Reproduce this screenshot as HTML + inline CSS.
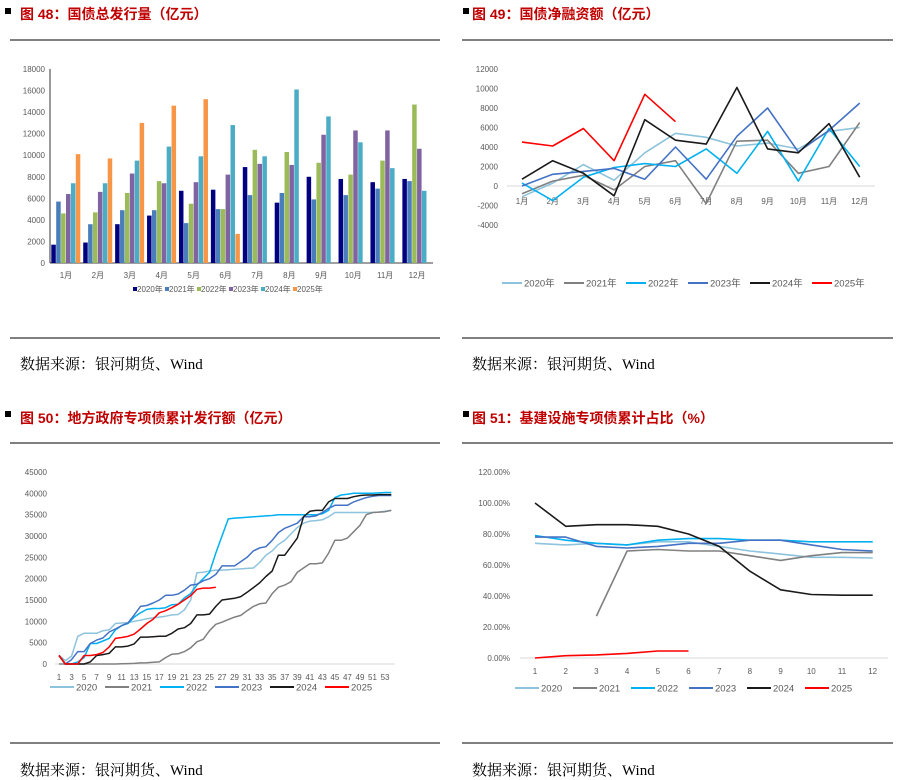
<!DOCTYPE html>
<html><head><meta charset="utf-8">
<style>
body{margin:0;background:#fff;width:897px;height:780px;overflow:hidden;font-family:"Liberation Sans","Noto Sans CJK SC",sans-serif}
svg{display:block}
.t{font-size:14px;font-weight:bold;fill:#c00000}
.src{font-family:"Liberation Serif","Noto Serif CJK SC",serif;font-size:15px;fill:#000}
.ax{font-size:8px;fill:#595959}
.ax9{font-size:9.5px;fill:#595959}
</style></head><body>
<svg id="s" width="897" height="780" xmlns="http://www.w3.org/2000/svg">
<g>
<rect x="5" y="8" width="6" height="6" fill="#000"/><text class="t" x="20" y="19">图 48：国债总发行量（亿元）</text>
<rect x="463" y="8" width="6" height="6" fill="#000"/><text class="t" x="472" y="19">图 49：国债净融资额（亿元）</text>
<rect x="5" y="411" width="6" height="6" fill="#000"/><text class="t" x="20" y="423">图 50：地方政府专项债累计发行额（亿元）</text>
<rect x="463" y="411" width="6" height="6" fill="#000"/><text class="t" x="472" y="423">图 51：基建设施专项债累计占比（%）</text>
<line x1="10" y1="40" x2="440" y2="40" stroke="#000"/><line x1="462" y1="40" x2="893" y2="40" stroke="#000"/>
<line x1="10" y1="338" x2="440" y2="338" stroke="#000"/><line x1="462" y1="338" x2="893" y2="338" stroke="#000"/>
<line x1="10" y1="443" x2="440" y2="443" stroke="#000"/><line x1="462" y1="443" x2="893" y2="443" stroke="#000"/>
<line x1="10" y1="743" x2="440" y2="743" stroke="#000"/><line x1="462" y1="743" x2="893" y2="743" stroke="#000"/>
<text class="src" x="20" y="369">数据来源：银河期货、Wind</text>
<text class="src" x="472" y="369">数据来源：银河期货、Wind</text>
<text class="src" x="20" y="775">数据来源：银河期货、Wind</text>
<text class="src" x="472" y="775">数据来源：银河期货、Wind</text>
</g>
</svg>
<script>
const months=["1月","2月","3月","4月","5月","6月","7月","8月","9月","10月","11月","12月"];
const years=["2020年","2021年","2022年","2023年","2024年","2025年"];
const yrs=["2020","2021","2022","2023","2024","2025"];
// chart 48
const b2020=[1700,1900,3600,4400,6700,6800,8900,5600,8000,7800,7500,7800];
const b2021=[5700,3600,4900,4900,3700,5000,6300,6500,5900,6300,6900,7600];
const b2022=[4600,4700,6500,7600,5500,5000,10500,10300,9300,8200,9500,14700];
const b2023=[6400,6600,8300,7400,7500,8200,9200,9100,11900,12300,12300,10600];
const b2024=[7400,7400,9500,10800,9900,12800,9900,16100,13600,11200,8800,6700];
const b2025=[10100,9700,13000,14600,15200,2700,null,null,null,null,null,null];
const ticks48=[0,2000,4000,6000,8000,10000,12000,14000,16000,18000];
// chart 49
const n2020=[-1100,300,2200,600,3400,5400,5000,4100,4400,3800,5600,6000];
const n2021=[-800,500,1100,-400,2000,2600,-1800,4600,4700,1300,2000,6500];
const n2022=[300,-1500,900,1900,2300,2000,3800,1300,5600,500,5900,2000];
const n2023=[0,1200,1500,1800,700,4000,700,5100,8000,3500,5700,8500];
const n2024=[700,2600,1300,-1000,6800,4700,4300,10100,3800,3400,6400,900];
const n2025=[4500,4100,5900,2600,9400,6600];
const ticks49=[-4000,-2000,0,2000,4000,6000,8000,10000,12000];
// chart 50
const c2020=[2000,800,1800,6500,7200,7200,7200,7800,8000,9500,9600,9700,10000,10300,10600,10800,11000,11200,11500,11600,12700,15000,21400,21500,21800,22000,22000,22100,22200,22300,22400,22500,23800,25500,26500,28000,29000,30500,32000,33000,33500,33600,33800,34500,35500,35500,35500,35500,35500,35500,35500,35600,35800,36000];
const c2021=[0,0,0,0,0,0,0,0,0,0,50,100,150,250,300,400,500,1500,2300,2400,2900,3800,5200,5800,7800,9300,9800,10400,11000,11400,12500,13500,14100,14300,16500,18000,18500,19300,21500,22500,23500,23500,23700,26000,29000,29000,29500,31000,32500,35000,35500,35600,35700,36000];
const c2022=[2000,0,0,500,1500,4800,4800,5400,6000,8000,9000,9500,11000,12000,12800,13000,13000,13200,13900,14000,15500,16500,18500,20000,21500,26000,30000,34000,34200,34300,34400,34500,34600,34700,34800,35000,35000,35000,35000,35000,35000,35000,35200,36000,39000,39600,39800,40000,40000,40000,40000,40100,40200,40200];
const c2023=[2000,0,1000,2900,2900,4800,5600,6100,7500,8200,9000,9600,11500,13500,13700,14300,15000,16100,16100,16400,17300,18500,18700,19500,20000,21000,23000,23000,23000,24000,25000,26500,27200,27500,29000,30800,31800,32400,33000,34500,34500,34700,35500,36500,37200,37200,37200,38000,38500,39000,39300,39500,39500,39500];
const c2024=[2000,0,0,0,0,500,2000,2200,2500,4000,4000,4200,4700,6300,6300,6400,6500,6500,7200,8200,8500,9500,11500,11500,11700,13500,15000,15200,15400,15800,16800,17900,19000,20500,21800,25500,25500,27500,29500,34500,35800,36000,36000,38000,38800,38800,38800,39200,39500,39600,39600,39700,39700,39700];
const c2025=[2000,0,0,0,2000,2000,2200,2700,4000,6000,6200,6500,7000,8200,9500,10500,12000,12500,13200,14000,15000,16000,17500,17800,17800,18000];
const ticks50=[0,5000,10000,15000,20000,25000,30000,35000,40000,45000];
// chart 51
const p2020=[74,73,74,73,75,75,72,69,67,65,65,64.5];
const p2021=[null,null,27,69,70,69,69,66,63,66,68,68];
const p2022=[79,76,74,73,76,77,77,76,76,75,75,75];
const p2023=[78,78,72,71,72,74,74,76,76,73,70,69];
const p2024=[100,85,86,86,85,80,72,56,44,41,40.5,40.5];
const p2025=[0,1.5,2,3,4.5,4.5];
const ticks51=[0,20,40,60,80,100,120];

const S=document.getElementById('s');const NS='http://www.w3.org/2000/svg';
function mk(tag,at,txt){const e=document.createElementNS(NS,tag);for(const k in at)e.setAttribute(k,at[k]);if(txt!=null)e.textContent=txt;S.appendChild(e);return e;}

// ---- chart 48
{const y=v=>263-v*(263-69)/18000, x0=50, gw=383/12, bw=4.9;
const cols=["#000080","#4a7ebb","#9bbb59","#8064a2","#4bacc6","#f79646"];
const ser=[b2020,b2021,b2022,b2023,b2024,b2025];
ticks48.forEach(t=>{const e=mk('text',{x:45,y:y(t)+3,'text-anchor':'end',class:'ax'},t);

});
const a=mk('line',{x1:x0,y1:69,x2:x0,y2:263,stroke:'#000','stroke-width':0.8});


const a2=mk('line',{x1:x0,y1:263,x2:433,y2:263,stroke:'#000','stroke-width':0.8});


months.forEach((m,i)=>{const e=mk('text',{x:x0+gw*(i+0.5),y:278,'text-anchor':'middle',class:'ax'},m);


ser.forEach((s,j)=>{if(s[i]==null)return;const r=mk('rect',{x:x0+gw*i+1.3+j*bw,y:y(s[i]),width:bw-0.4,height:263-y(s[i]),fill:cols[j]});

});});
years.forEach((yy,j)=>{const lx=133+j*32;const r=mk('rect',{x:lx,y:287,width:4,height:4,fill:cols[j]});


const t=mk('text',{x:lx+4,y:292,class:'ax','font-size':'7'},yy);

});}

function lines(cfg){const {ser,cols,x,y,w,name}=cfg;
ser.forEach((s,j)=>{let d='';let pen=false;s.forEach((v,i)=>{if(v==null){pen=false;return;}d+=(pen?'L':'M')+x(i).toFixed(1)+' '+y(v).toFixed(1);pen=true;});
const p=mk('path',{d:d,fill:'none',stroke:cols[j],'stroke-width':w,'stroke-linejoin':'round'});

});}
function legend(lx0,step,ly,cols,labels,name,lw){labels.forEach((l,j)=>{const lx=lx0+j*step;
const ln=mk('line',{x1:lx,y1:ly,x2:lx+lw,y2:ly,stroke:cols[j],'stroke-width':2});


const t=mk('text',{x:lx+lw+2,y:ly+3.5,class:'ax9'},l);

});}
const lc=["#8dc3dc","#808080","#00b0f0","#4472c4","#1a1a1a","#ff0000"];

// ---- chart 49
{const y=v=>186-v*(186-69)/12000, x=i=>522+i*30.7;
ticks49.forEach(t=>{const e=mk('text',{x:498,y:y(t)+3,'text-anchor':'end',class:'ax'},t);

});
const a=mk('line',{x1:507,y1:186,x2:875,y2:186,stroke:'#d9d9d9'});


months.forEach((m,i)=>{const e=mk('text',{x:x(i),y:204,'text-anchor':'middle',class:'ax'},m);

});
lines({ser:[n2020,n2021,n2022,n2023,n2024,n2025],cols:lc,x:x,y:y,w:1.6,name:'c49'});
legend(502,62,283,lc,years,'c49',20);}

// ---- chart 50
{const y=v=>664-v*(664-472)/45000, x=i=>59+i*6.27;
ticks50.forEach(t=>{const e=mk('text',{x:47,y:y(t)+3,'text-anchor':'end',class:'ax'},t);

});
const a=mk('line',{x1:55,y1:664,x2:395,y2:664,stroke:'#d9d9d9'});


for(let w=1;w<=53;w+=2){const e=mk('text',{x:x(w-1),y:680,'text-anchor':'middle',class:'ax'},w);

}
lines({ser:[c2020,c2021,c2022,c2023,c2024,c2025],cols:lc,x:x,y:y,w:1.5,name:'c50'});
legend(50,55,687,lc,yrs,'c50',24);}

// ---- chart 51
{const y=v=>658-v*(658-472)/120, x=i=>535+i*30.7;
ticks51.forEach(t=>{const e=mk('text',{x:510,y:y(t)+3,'text-anchor':'end',class:'ax'},t.toFixed(2)+'%');

});
const a=mk('line',{x1:520,y1:658,x2:888,y2:658,stroke:'#d9d9d9'});


for(let i=0;i<12;i++){const e=mk('text',{x:x(i),y:674,'text-anchor':'middle',class:'ax'},i+1);

}
lines({ser:[p2020,p2021,p2022,p2023,p2024,p2025],cols:lc,x:x,y:y,w:1.6,name:'c51'});
legend(515,58,688,lc,yrs,'c51',24);}
</script>
</body></html>
